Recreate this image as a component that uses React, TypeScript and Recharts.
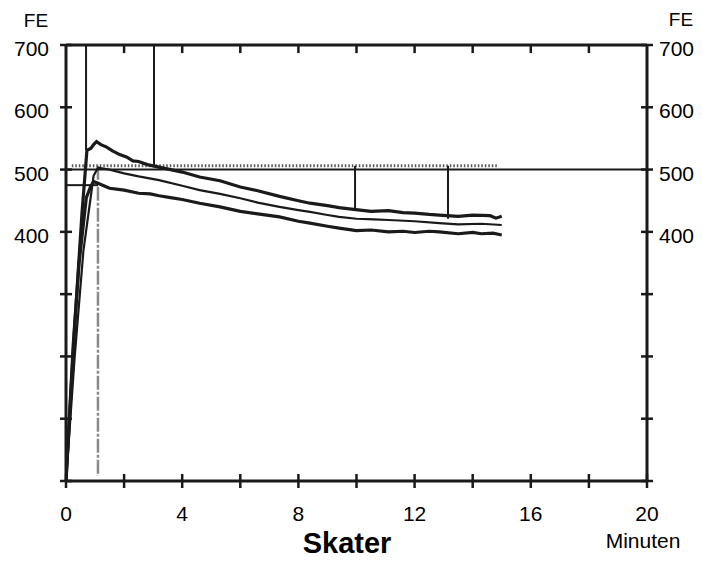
import { Line, LineChart, ReferenceLine, XAxis, YAxis } from "recharts";

// minutes, FE
const upperCurve: [number, number][] = [
  [0, 0], [0.3, 250], [0.55, 430], [0.72, 531], [0.85, 534], [0.95, 540],
  [1.05, 545], [1.2, 540], [1.4, 536], [1.6, 530], [1.85, 524], [2.1, 520],
  [2.3, 514], [2.5, 513], [2.8, 508], [3.2, 504], [3.6, 500], [4.0, 496],
  [4.6, 488], [5.3, 482], [6.0, 472], [6.6, 466], [7.35, 457], [8.0, 450],
  [8.4, 446], [9.0, 442], [9.4, 439], [9.9, 436], [10.5, 433], [11.1, 434],
  [11.6, 431], [12.0, 430], [12.5, 428], [12.85, 427], [13.5, 425],
  [14.0, 427], [14.6, 426], [14.8, 422], [15.0, 425],
];
const middleCurve: [number, number][] = [
  [0, 0], [0.3, 200], [0.6, 370], [0.95, 490], [1.1, 503], [1.5, 500],
  [2.0, 494], [2.5, 489], [3.2, 483], [4.0, 474], [4.6, 467], [5.3, 461],
  [6.0, 454], [6.6, 447], [7.35, 440], [8.0, 435], [8.4, 432], [9.0, 427],
  [9.4, 424], [10.0, 421], [10.6, 420], [11.1, 419], [12.0, 417],
  [12.85, 414], [13.5, 412], [14.3, 413], [15.0, 411],
];
const lowerCurve: [number, number][] = [
  [0, 0], [0.25, 220], [0.45, 350], [0.7, 455], [0.85, 473], [0.95, 481],
  [1.1, 478], [1.3, 474], [1.5, 470], [2.0, 467], [2.5, 462], [2.9, 461],
  [3.2, 458], [3.6, 455], [4.0, 452], [4.6, 446], [5.3, 440], [6.0, 433],
  [6.6, 429], [7.35, 424], [8.0, 417], [8.4, 414], [9.0, 409], [9.4, 406],
  [10.0, 402], [10.5, 403], [11.1, 400], [11.6, 401], [12.0, 399],
  [12.5, 401], [12.85, 400], [13.5, 397], [14.0, 399], [14.3, 397],
  [14.7, 398], [15.0, 395],
];

// marker lines in minutes / FE
const solidMarks = [
  { x1: 0.69, y1: 700, x2: 0.69, y2: 531 },
  { x1: 3.03, y1: 700, x2: 3.03, y2: 506 },
  { x1: 9.95, y1: 506, x2: 9.95, y2: 435 },
  { x1: 13.15, y1: 506, x2: 13.15, y2: 421 },
  { x1: 0, y1: 475, x2: 1.1, y2: 475 },
  { x1: 0, y1: 500, x2: 20, y2: 500 },
];
const dottedMarks = [{ x1: 0.2, y1: 506, x2: 14.9, y2: 506 }];
const greyMarks = [{ x1: 1.1, y1: 506, x2: 1.1, y2: 8 }];

const xTicks = [0, 2, 4, 6, 8, 10, 12, 14, 16, 18, 20];
const xLabels = [0, 4, 8, 12, 16, 20];
const topTicks = [2, 4, 6, 8, 10, 12, 14, 16, 18];
const yTicks = [0, 100, 200, 300, 400, 500, 600, 700];
const yLabels = [400, 500, 600, 700];

const font = "'Liberation Sans', Arial, sans-serif";
const ink = "#1a1a1a";

const toRows = (pts: [number, number][]) => pts.map(([t, v]) => ({ t, v }));

function BottomTick(props: any) {
  const { x, y, payload } = props;
  return (
    <g>
      <line x1={x} x2={x} y1={y - 7} y2={y + 7} stroke={ink} strokeWidth={2.5} />
      {xLabels.includes(payload.value) && (
        <text x={x} y={y + 40} textAnchor="middle" fontSize={21} fontFamily={font} fill="#000">
          {payload.value}
        </text>
      )}
    </g>
  );
}

function LeftTick(props: any) {
  const { x, y, payload } = props;
  return (
    <g>
      <line x1={x - 6} x2={x + 6} y1={y} y2={y} stroke={ink} strokeWidth={2.5} />
      {yLabels.includes(payload.value) && (
        <text x={x - 17} y={y + 11} textAnchor="end" fontSize={21} fontFamily={font} fill="#000">
          {payload.value}
        </text>
      )}
    </g>
  );
}

function RightTick(props: any) {
  const { x, y, payload } = props;
  return (
    <g>
      <line x1={x - 6} x2={x + 6} y1={y} y2={y} stroke={ink} strokeWidth={2.5} />
      {yLabels.includes(payload.value) && (
        <text x={x + 12} y={y + 11} textAnchor="start" fontSize={21} fontFamily={font} fill="#000">
          {payload.value}
        </text>
      )}
    </g>
  );
}

const seg = (m: { x1: number; y1: number; x2: number; y2: number }) => [
  { x: m.x1, y: m.y1 },
  { x: m.x2, y: m.y2 },
];

export default function App() {
  return (
    <div style={{ position: "relative", width: 702, height: 562 }}>
      <style>{`body{margin:0;background:#fff}`}</style>
      <LineChart width={702} height={562} margin={{ top: 40, right: 0, bottom: 0, left: 0 }}>
        <XAxis
          xAxisId="b"
          dataKey="t"
          type="number"
          domain={[0, 20]}
          ticks={xTicks}
          interval={0}
          height={81}
          tickSize={0}
          tickMargin={0}
          tickLine={false}
          tick={<BottomTick />}
          axisLine={{ stroke: ink, strokeWidth: 3 }}
          allowDataOverflow
        />
        <XAxis
          xAxisId="t"
          orientation="top"
          dataKey="t"
          type="number"
          domain={[0, 20]}
          ticks={xTicks}
          height={5}
          tickLine={false}
          tick={false}
          axisLine={{ stroke: ink, strokeWidth: 3 }}
          allowDataOverflow
        />
        <YAxis
          yAxisId="l"
          type="number"
          domain={[0, 700]}
          ticks={yTicks}
          interval={0}
          width={66}
          tickSize={0}
          tickMargin={0}
          tickLine={false}
          tick={<LeftTick />}
          axisLine={{ stroke: ink, strokeWidth: 3 }}
          allowDataOverflow
        />
        <YAxis
          yAxisId="r"
          orientation="right"
          type="number"
          domain={[0, 700]}
          ticks={yTicks}
          interval={0}
          width={55}
          tickSize={0}
          tickMargin={0}
          tickLine={false}
          tick={<RightTick />}
          axisLine={{ stroke: ink, strokeWidth: 3 }}
          allowDataOverflow
        />

        {/* inward tick marks hanging from the top border */}
        {topTicks.map((t) => (
          <ReferenceLine
            key={`tt${t}`}
            xAxisId="b"
            yAxisId="l"
            segment={[{ x: t, y: 700 }, { x: t, y: 687 }]}
            stroke={ink}
            strokeWidth={2.5}
          />
        ))}

        {greyMarks.map((m, i) => (
          <ReferenceLine
            key={`g${i}`}
            xAxisId="b"
            yAxisId="l"
            segment={seg(m)}
            stroke="#8a8a8a"
            strokeWidth={2.5}
            strokeDasharray="14 2 3 2"
          />
        ))}
        {dottedMarks.map((m, i) => (
          <ReferenceLine
            key={`d${i}`}
            xAxisId="b"
            yAxisId="l"
            segment={seg(m)}
            stroke="#555"
            strokeWidth={3}
            strokeDasharray="1.5 2"
          />
        ))}
        {solidMarks.map((m, i) => (
          <ReferenceLine
            key={`s${i}`}
            xAxisId="b"
            yAxisId="l"
            segment={seg(m)}
            stroke={ink}
            strokeWidth={2}
          />
        ))}

        {/* the same middle curve on the top/right axes, invisible, so those axes get ticks */}
        <Line xAxisId="t" yAxisId="r" data={toRows(middleCurve)} dataKey="v" type="linear"
          stroke="none" dot={false} activeDot={false} isAnimationActive={false} />

        <Line xAxisId="b" yAxisId="l" data={toRows(upperCurve)} dataKey="v" type="linear"
          stroke={ink} strokeWidth={3.2} dot={false} isAnimationActive={false} />
        <Line xAxisId="b" yAxisId="l" data={toRows(middleCurve)} dataKey="v" type="linear"
          stroke={ink} strokeWidth={2.2} dot={false} isAnimationActive={false} />
        <Line xAxisId="b" yAxisId="l" data={toRows(lowerCurve)} dataKey="v" type="linear"
          stroke={ink} strokeWidth={3.2} dot={false} isAnimationActive={false} />
      </LineChart>
      <svg
        width={702}
        height={562}
        style={{ position: "absolute", left: 0, top: 0, pointerEvents: "none" }}
      >
        <text x={36} y={27} textAnchor="middle" fontSize={19} fontFamily={font}>FE</text>
        <text x={681} y={26} textAnchor="middle" fontSize={19} fontFamily={font}>FE</text>
        <text x={347} y={553} textAnchor="middle" fontSize={29} fontWeight="bold" fontFamily={font}>
          Skater
        </text>
        <text x={643} y={548} textAnchor="middle" fontSize={21} fontFamily={font}>Minuten</text>
      </svg>
    </div>
  );
}
